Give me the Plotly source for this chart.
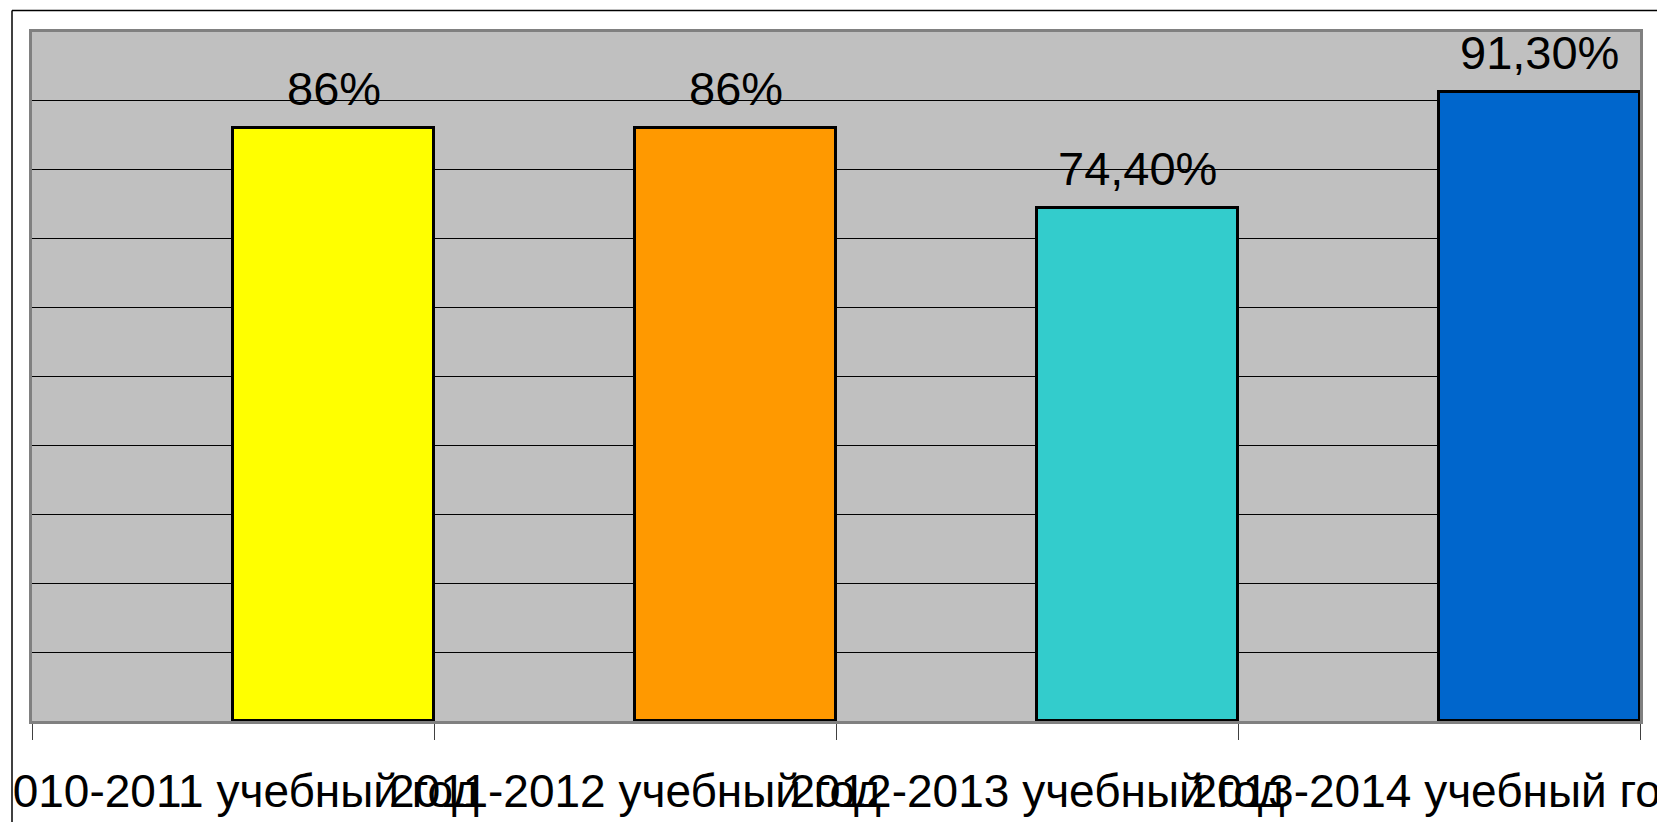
import plotly.graph_objects as go

categories = ["2010-2011 учебный год", "2011-2012 учебный год",
              "2012-2013 учебный год", "2013-2014 учебный год"]
values = [0.86, 0.86, 0.744, 0.913]
value_labels = ["86%", "86%", "74,40%", "91,30%"]
colors = ["#FFFF00", "#FF9900", "#33CCCC", "#0066CC"]

# page has an 8px body margin; figure size/margins compensate for it
OFF = 8
W, H = 1665 - OFF, 822 - OFF
ML, MR, MT, MB = 32 - OFF, W - (1640 - OFF), 32 - OFF, H - (721 - OFF)
pw = W - ML - MR
ph = H - MT - MB

fig = go.Figure()
fig.add_trace(go.Bar(
    x=categories, y=values,
    marker=dict(color=colors, line=dict(color="#000000", width=3)),
    width=0.5, offset=0,
    hoverinfo="skip",
))

for i, (v, t) in enumerate(zip(values, value_labels)):
    fig.add_annotation(
        x=i + 0.25, y=v, xref="x", yref="y", text=t, showarrow=False,
        yanchor="bottom", xanchor="center", yshift=11,
        font=dict(family="Liberation Sans, Arial", size=47, color="#000000"),
    )

def px_x(p):  # page px -> paper
    return (p - OFF - ML) / pw
def px_y(p):
    return (H - MB - (p - OFF)) / ph

# white mask left of the chart frame (clips the first tick label like the original)
fig.add_shape(type="rect", xref="paper", yref="paper", layer="above",
              x0=px_x(0), x1=px_x(12), y0=px_y(0), y1=px_y(830),
              line=dict(width=0), fillcolor="#FFFFFF")
# outer frame lines (top and left)
fig.add_shape(type="line", xref="paper", yref="paper", layer="above",
              x0=px_x(12), x1=px_x(1660), y0=px_y(10.5), y1=px_y(10.5),
              line=dict(color="#000000", width=1.5))
fig.add_shape(type="line", xref="paper", yref="paper", layer="above",
              x0=px_x(12), x1=px_x(12), y0=px_y(10.5), y1=px_y(830),
              line=dict(color="#000000", width=1.5))

fig.update_layout(
    width=W, height=H,
    margin=dict(l=ML, r=MR, t=MT, b=MB, pad=0, autoexpand=False),
    paper_bgcolor="#FFFFFF", plot_bgcolor="#C0C0C0",
    showlegend=False,
    font=dict(family="Liberation Sans, Arial", size=46, color="#000000"),
    bargap=0,
)
fig.update_xaxes(
    type="category", tickson="boundaries", ticks="outside", ticklen=16,
    tickcolor="#404040", tickwidth=1, tickangle=0, automargin=False,
    showgrid=False, showline=True, mirror=True, linecolor="#808080", linewidth=3,
    tickfont=dict(family="Liberation Sans, Arial", size=46, color="#000000"),
    ticklabelstandoff=28, range=[-0.5, 3.5],
)
fig.update_yaxes(
    range=[0, 1], dtick=0.1, showticklabels=False, ticks="", automargin=False,
    showgrid=True, gridcolor="#000000", gridwidth=1, zeroline=False,
    showline=True, mirror=True, linecolor="#808080", linewidth=3,
)

fig.write_html("out.html")
